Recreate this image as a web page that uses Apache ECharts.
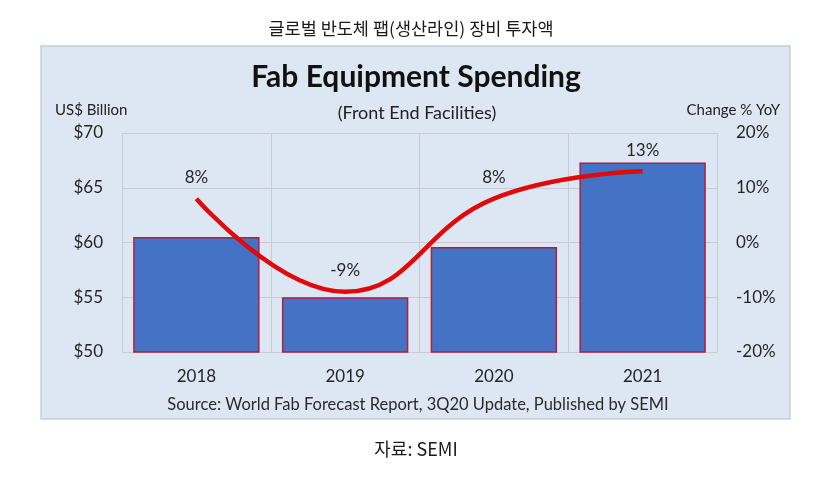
<!DOCTYPE html>
<html>
<head>
<meta charset="utf-8">
<script src="https://cdn.jsdelivr.net/npm/echarts@6/dist/echarts.min.js"></script>
<style>html,body{margin:0;padding:0;background:#fff}#c{width:823px;height:490px}</style>
</head>
<body>
<div id="c"></div>
<script>
const categories = ['2018', '2019', '2020', '2021'];
const spending = [60.5, 55.0, 59.6, 67.3];
const changeYoY = [8, -9, 8, 13];
const leftTicks = { min: 50, max: 70, interval: 5 };
const rightTicks = { min: -20, max: 20, interval: 10 };

const F = 'Lato, "Open Sans", sans-serif';
const K = '"Noto Sans CJK KR", sans-serif';
const chart = echarts.init(document.getElementById('c'), null, { renderer: 'canvas' });
chart.setOption({
  backgroundColor: '#ffffff',
  animation: false,
  graphic: [
    { type: 'rect', z: -10, shape: { x: 41, y: 46, width: 749, height: 373 },
      style: { fill: '#dde7f3', stroke: '#c9ced6', lineWidth: 1.5 } },
    { type: 'text', x: 411, y: 28, style: { text: '글로벌 반도체 팹(생산라인) 장비 투자액', font: '17.5px ' + K, fill: '#1a1a1a', align: 'center', verticalAlign: 'middle' } },
    { type: 'text', x: 416, y: 77, style: { text: 'Fab Equipment Spending', font: 'bold 30px ' + F, fill: '#111', align: 'center', verticalAlign: 'middle' } },
    { type: 'text', x: 417, y: 113, style: { text: '(Front End Facilities)', font: '18px ' + F, fill: '#222', align: 'center', verticalAlign: 'middle' } },
    { type: 'text', x: 55, y: 110, style: { text: 'US$ Billion', font: '15px ' + F, fill: '#222', align: 'left', verticalAlign: 'middle' } },
    { type: 'text', x: 780, y: 110, style: { text: 'Change % YoY', font: '15px ' + F, fill: '#222', align: 'right', verticalAlign: 'middle' } },
    { type: 'text', x: 418, y: 405, style: { text: 'Source: World Fab Forecast Report, 3Q20 Update, Published by SEMI', font: '16.5px ' + F, fill: '#2a2a2a', align: 'center', verticalAlign: 'middle' } },
    { type: 'text', x: 416, y: 449, style: { text: '자료: SEMI', font: '18px ' + K, fill: '#1a1a1a', align: 'center', verticalAlign: 'middle' } }
  ],
  grid: { left: 122, right: 106, top: 133, bottom: 138 },
  xAxis: {
    type: 'category', data: categories,
    axisLine: { show: true, lineStyle: { color: '#c8ccd2' } },
    axisTick: { show: false },
    splitLine: { show: true, lineStyle: { color: '#c8ccd2' } },
    axisLabel: { color: '#262626', fontFamily: F, fontSize: 17, margin: 16 }
  },
  yAxis: [
    { type: 'value', min: leftTicks.min, max: leftTicks.max, interval: leftTicks.interval,
      axisLine: { show: false }, axisTick: { show: false },
      splitLine: { lineStyle: { color: '#c8ccd2' } },
      axisLabel: { color: '#262626', fontFamily: F, fontSize: 17, margin: 19, formatter: v => '$' + v } },
    { type: 'value', min: rightTicks.min, max: rightTicks.max, interval: rightTicks.interval,
      axisLine: { show: false }, axisTick: { show: false }, splitLine: { show: false },
      axisLabel: { color: '#262626', fontFamily: F, fontSize: 17, margin: 19, formatter: v => v + '%' } }
  ],
  series: [
    { type: 'bar', data: spending, yAxisIndex: 0, barCategoryGap: '15%',
      itemStyle: { color: '#4472c4', borderColor: '#b0203a', borderWidth: 1.5 } },
    { type: 'line', data: changeYoY, yAxisIndex: 1, smooth: 0.45,
      symbol: 'circle', symbolSize: 1, showSymbol: true, itemStyle: { color: 'rgba(0,0,0,0)' },
      lineStyle: { color: '#e00a0a', width: 4.5 },
      label: { show: true, position: 'top', distance: 12, color: '#262626', fontFamily: F, fontSize: 17, formatter: p => p.value + '%' } }
  ]
});
</script>
</body>
</html>
